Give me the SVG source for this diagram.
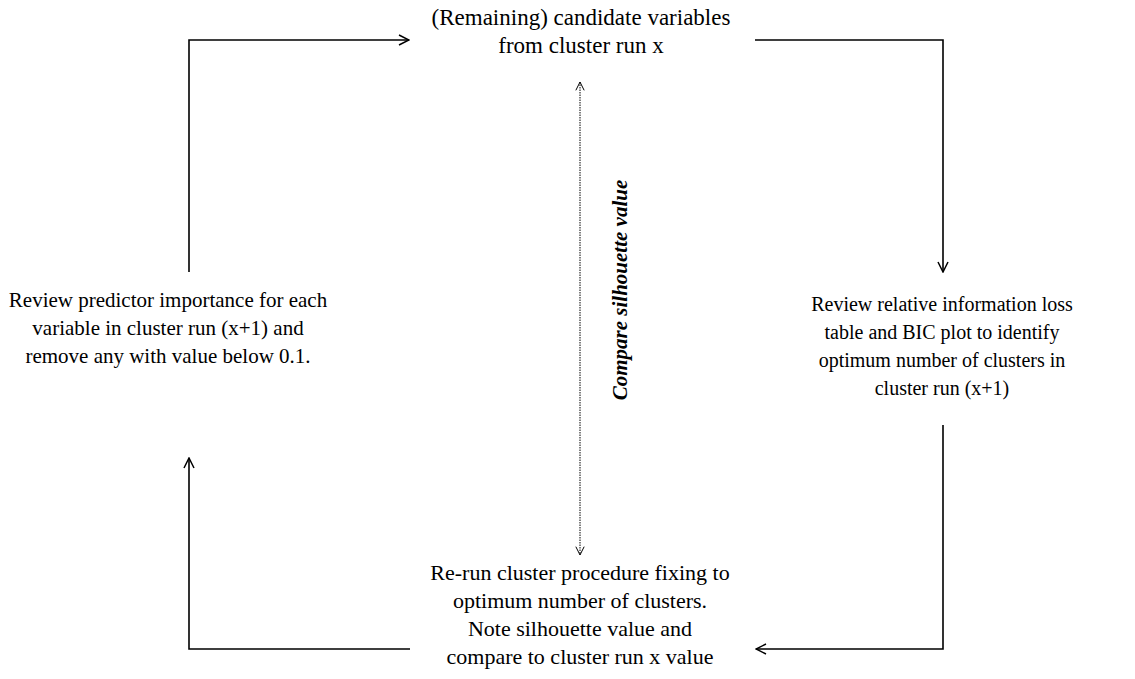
<svg xmlns="http://www.w3.org/2000/svg" width="1135" height="679" viewBox="0 0 1135 679">
<defs>
<style>
.t{font-family:"Liberation Serif","Times New Roman",serif;font-size:20px;fill:#000;text-anchor:middle}
.c{fill:none;stroke:#000;stroke-width:1.6}
.d{fill:none;stroke:#000;stroke-width:1;stroke-dasharray:1.5 1}
</style>
<marker id="ah" viewBox="0 0 12 12" refX="11" refY="6" markerWidth="12" markerHeight="12" markerUnits="userSpaceOnUse" orient="auto">
<path d="M1,1 L11,6 L1,11" fill="none" stroke="#000" stroke-width="1.5"/>
</marker>
<marker id="ahs" viewBox="0 0 12 12" refX="11" refY="6" markerWidth="10" markerHeight="10" markerUnits="userSpaceOnUse" orient="auto-start-reverse">
<path d="M1,1 L11,6 L1,11" fill="none" stroke="#000" stroke-width="1.2"/>
</marker>
</defs>
<rect width="1135" height="679" fill="#fff"/>
<g id="connectors">
<path class="c" d="M189,272 V40 H409" marker-end="url(#ah)"/>
<path class="c" d="M755,40 H943 V272" marker-end="url(#ah)"/>
<path class="c" d="M943,425 V649 H756" marker-end="url(#ah)"/>
<path class="c" d="M410,649 H189 V458" marker-end="url(#ah)"/>
<path class="d" d="M580,82 V555" marker-start="url(#ahs)" marker-end="url(#ahs)"/>
<text transform="translate(627,290) rotate(-90)" class="t" style="font-weight:bold;font-style:italic;font-size:21px">Compare silhouette value</text>
</g>
<g id="n-top" style="font-size:23px">
<text class="t" x="581" y="25" style="font-size:23px">(Remaining) candidate variables</text>
<text class="t" x="581" y="53" style="font-size:23px">from cluster run x</text>
</g>
<g id="n-left">
<text class="t" x="168" y="307" style="font-size:21px">Review predictor importance for each</text>
<text class="t" x="168" y="335" style="font-size:21px">variable in cluster run (x+1) and</text>
<text class="t" x="168" y="363" style="font-size:21px">remove any with value below 0.1.</text>
</g>
<g id="n-right">
<text class="t" x="942" y="311">Review relative information loss</text>
<text class="t" x="942" y="339">table and BIC plot to identify</text>
<text class="t" x="942" y="367">optimum number of clusters in</text>
<text class="t" x="942" y="395">cluster run (x+1)</text>
</g>
<g id="n-bottom">
<text class="t" x="580" y="580" style="font-size:22px">Re-run cluster procedure fixing to</text>
<text class="t" x="580" y="608" style="font-size:22px">optimum number of clusters.</text>
<text class="t" x="580" y="636" style="font-size:22px">Note silhouette value and</text>
<text class="t" x="580" y="664" style="font-size:22px">compare to cluster run x value</text>
</g>
</svg>
